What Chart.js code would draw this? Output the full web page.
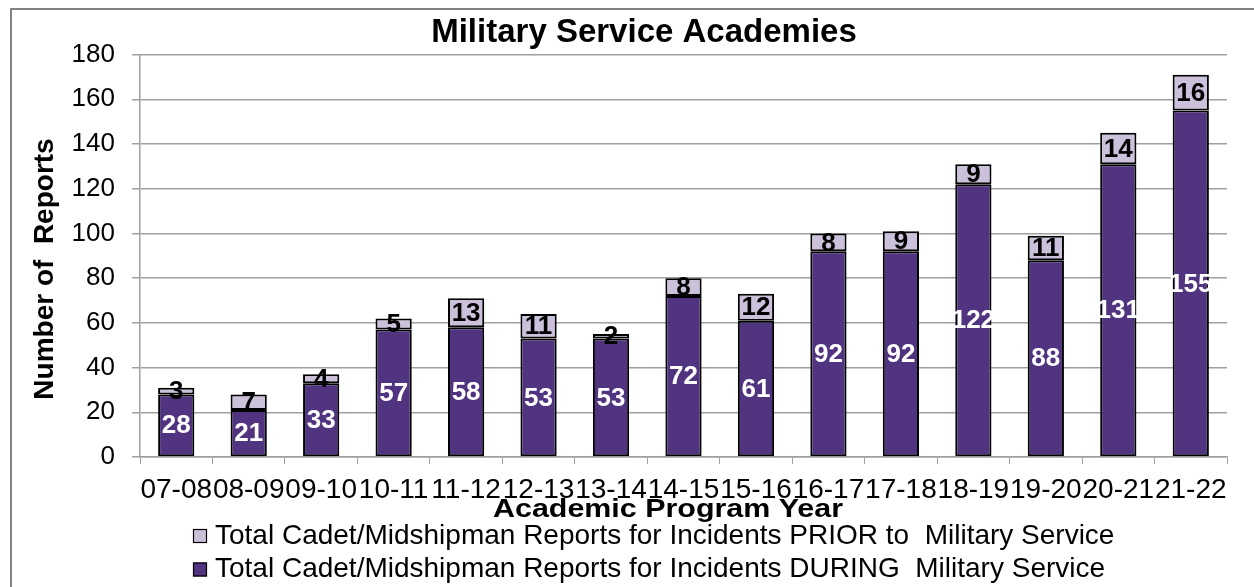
<!DOCTYPE html>
<html><head><meta charset="utf-8">
<script src="https://cdn.jsdelivr.net/npm/chart.js@4/dist/chart.umd.min.js"></script>
<style>html,body{margin:0;padding:0;background:#fff;overflow:hidden}#wrap{position:relative;width:1254px;height:587px}</style>
</head><body><div id="wrap"><canvas id="c" width="1254" height="587"></canvas></div>
<script>
const categories = ['07-08','08-09','09-10','10-11','11-12','12-13','13-14','14-15','15-16','16-17','17-18','18-19','19-20','20-21','21-22'];
const duringValues = [28,21,33,57,58,53,53,72,61,92,92,122,88,131,155];
const priorValues = [3,7,4,5,13,11,2,8,12,8,9,9,11,14,16];
const yMin = 0, yMax = 180, yStep = 20;
const labelDuring = 'Total Cadet/Midshipman Reports for Incidents DURING  Military Service';
const labelPrior = 'Total Cadet/Midshipman Reports for Incidents PRIOR to  Military Service';
const titleText = 'Military Service Academies';
const xTitle = 'Academic Program Year';
const yTitle = 'Number of  Reports';

const FONT = '"Liberation Sans", Arial, sans-serif';
const DARK = '#513480', LIGHT = '#CCC1DA', GRID = '#a0a0a0';

const borderPlugin = {
  id: 'frame',
  beforeDraw(chart) {
    const ctx = chart.ctx;
    ctx.save();
    ctx.fillStyle = '#fff';
    ctx.fillRect(0, 0, chart.width, chart.height);
    ctx.strokeStyle = '#595959';
    ctx.lineWidth = 1.5;
    ctx.beginPath();
    ctx.moveTo(11, chart.height);
    ctx.lineTo(11, 9);
    ctx.lineTo(chart.width, 9);
    ctx.stroke();
    ctx.restore();
  }
};

const labelPlugin = {
  id: 'barLabels',
  afterDatasetsDraw(chart) {
    const ctx = chart.ctx;
    ctx.save();
    ctx.font = 'bold 26px ' + FONT;
    ctx.textAlign = 'center';
    ctx.textBaseline = 'middle';
    chart.data.datasets.forEach((ds, di) => {
      const meta = chart.getDatasetMeta(di);
      ctx.fillStyle = di === 0 ? '#ffffff' : '#000000';
      meta.data.forEach((el, i) => {
        const p = el.getProps(['x', 'y', 'base'], true);
        ctx.fillText(String(ds.data[i]), p.x, (p.y + p.base) / 2 + 1);
      });
    });
    ctx.restore();
  }
};

// axis titles and legend (PRIOR first, then DURING)
const textPlugin = {
  id: 'texts',
  afterDraw(chart) {
    const ctx = chart.ctx;
    const area = chart.chartArea;
    ctx.save();
    // x axis title, sits just under the tick labels
    ctx.font = 'bold 25px ' + FONT;
    ctx.fillStyle = '#000';
    ctx.textAlign = 'center';
    ctx.textBaseline = 'alphabetic';
    const w = ctx.measureText(xTitle).width;
    const sx = 350 / w;
    ctx.save();
    ctx.translate(668, 517);
    ctx.scale(sx, 1);
    ctx.fillText(xTitle, 0, 0);
    ctx.restore();
    // y axis title
    ctx.font = 'bold 28px ' + FONT;
    ctx.save();
    ctx.translate(53, 269);
    ctx.rotate(-Math.PI / 2);
    ctx.fillText(yTitle, 0, 0);
    ctx.restore();
    // legend
    const items = chart.data.datasets.slice().reverse();
    ctx.font = '28px ' + FONT;
    ctx.textAlign = 'left';
    ctx.textBaseline = 'middle';
    items.forEach((ds, i) => {
      const cy = 536 + i * 33.5;
      ctx.fillStyle = ds.backgroundColor;
      ctx.fillRect(193, cy - 7, 14, 14);
      ctx.strokeStyle = '#000';
      ctx.lineWidth = 1.2;
      ctx.strokeRect(193.5, cy - 6.5, 13, 13);
      ctx.fillStyle = '#000';
      ctx.fillText(ds.label, 215, cy);
    });
    ctx.restore();
  }
};

new Chart(document.getElementById('c'), {
  type: 'bar',
  data: {
    labels: categories,
    datasets: [
      { label: labelDuring, data: duringValues, backgroundColor: DARK, borderColor: '#000', borderWidth: 2, borderSkipped: false, barPercentage: 0.5, categoryPercentage: 1 },
      { label: labelPrior, data: priorValues, backgroundColor: LIGHT, borderColor: '#000', borderWidth: 2, borderSkipped: false, barPercentage: 0.5, categoryPercentage: 1 }
    ]
  },
  plugins: [borderPlugin, labelPlugin, textPlugin],
  options: {
    responsive: false,
    animation: false,
    devicePixelRatio: 1,
    layout: { padding: { left: 61, right: 27, top: 10, bottom: 70 } },
    plugins: {
      title: { display: true, text: titleText, color: '#000', font: { family: FONT, size: 33, weight: 'bold' }, padding: { top: 3, bottom: 2 } },
      legend: { display: false },
      tooltip: { enabled: false }
    },
    scales: {
      x: {
        stacked: true,
        afterFit(scale) { scale.height = 60; },
        grid: { display: true, drawOnChartArea: false, offset: true, color: GRID, tickLength: 7, tickColor: GRID },
        border: { color: GRID, width: 1.5 },
        ticks: { color: '#000', font: { family: FONT, size: 28 }, autoSkip: false, maxRotation: 0, minRotation: 0, padding: 9 },
        title: { display: false, text: xTitle }
      },
      y: {
        stacked: true,
        min: yMin, max: yMax,
        afterFit(scale) { scale.width = 79; },
        grid: { color: GRID, lineWidth: 1.5, tickLength: 8, tickColor: GRID },
        border: { color: GRID, width: 1.5 },
        ticks: { stepSize: yStep, color: '#000', font: { family: FONT, size: 26 }, padding: 17 },
        title: { display: false, text: yTitle }
      }
    }
  }
});
</script>
</body></html>
